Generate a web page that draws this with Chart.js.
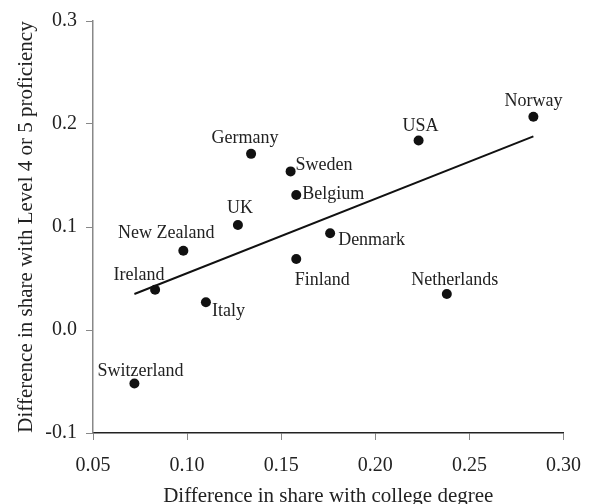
<!DOCTYPE html>
<html>
<head>
<meta charset="utf-8">
<script src="https://cdn.jsdelivr.net/npm/chart.js@4"></script>
<style>
  html, body { margin: 0; padding: 0; background: #fff; }
</style>
</head>
<body>
<canvas id="myChart" width="595" height="504"></canvas>
<script>
// values
const countries = ['Germany', 'Sweden', 'Belgium', 'UK', 'New Zealand', 'Ireland', 'Italy',
  'Switzerland', 'Finland', 'Netherlands', 'Denmark', 'USA', 'Norway'];
const collegeDiff = [0.134, 0.155, 0.158, 0.127, 0.098, 0.083, 0.110,
  0.072, 0.158, 0.238, 0.176, 0.223, 0.284];
const proficiencyDiff = [0.171, 0.154, 0.131, 0.102, 0.077, 0.039, 0.027,
  -0.052, 0.069, 0.035, 0.094, 0.184, 0.207];

// fitted line, end points
const trendX = [0.072, 0.284];
const trendY = [0.035, 0.188];

const xTicks = [0.05, 0.10, 0.15, 0.20, 0.25, 0.30];
const yTicks = [-0.1, 0.0, 0.1, 0.2, 0.3];

// where each country name sits relative to its dot: [dx, dy, align]
const labelPlace = {
  'Germany': [-6, -16, 'center'],
  'Sweden': [5, -6, 'left'],
  'Belgium': [6, -1, 'left'],
  'UK': [2, -17, 'center'],
  'New Zealand': [-17, -17, 'center'],
  'Ireland': [-16, -15, 'center'],
  'Italy': [6, 9, 'left'],
  'Switzerland': [6, -12, 'center'],
  'Finland': [26, 21, 'center'],
  'Netherlands': [8, -14, 'center'],
  'Denmark': [8, 7, 'left'],
  'USA': [2, -14, 'center'],
  'Norway': [0, -16, 'center']
};

const SERIF = '"Liberation Serif", "Times New Roman", Times, serif';

const countryLabels = {
  id: 'countryLabels',
  afterDatasetsDraw(chart) {
    const ctx = chart.ctx;
    const meta = chart.getDatasetMeta(0);
    ctx.save();
    ctx.font = '18px ' + SERIF;
    ctx.fillStyle = '#222';
    ctx.textBaseline = 'middle';
    meta.data.forEach((pt, i) => {
      const p = labelPlace[countries[i]];
      ctx.textAlign = p[2];
      ctx.fillText(countries[i], pt.x + p[0], pt.y + p[1]);
    });
    ctx.restore();
  }
};

const points = collegeDiff.map((x, i) => ({ x: x, y: proficiencyDiff[i] }));
const trend = trendX.map((x, i) => ({ x: x, y: trendY[i] }));

const data = {
  datasets: [
    {
      type: 'scatter',
      label: 'Countries',
      data: points,
      pointRadius: 5,
      pointBackgroundColor: '#111',
      pointBorderColor: '#111',
      pointBorderWidth: 0
    },
    {
      type: 'line',
      label: 'Fit',
      data: trend,
      borderColor: '#111',
      borderWidth: 2,
      pointRadius: 0,
      fill: false
    }
  ]
};

const config = {
  type: 'scatter',
  data: data,
  plugins: [countryLabels],
  options: {
    responsive: false,
    animation: false,
    layout: { padding: { top: 19, right: 28, left: 0, bottom: 0 } },
    plugins: {
      legend: { display: false },
      tooltip: { enabled: false }
    },
    scales: {
      x: {
        type: 'linear',
        min: 0.05,
        max: 0.30,
        afterBuildTicks: s => { s.ticks = xTicks.map(v => ({ value: v })); },
        afterFit: s => { s.height = 71; },
        grid: { drawOnChartArea: false, drawTicks: true, tickLength: 7, color: '#888' },
        border: { color: '#222', width: 1.5 },
        ticks: {
          padding: 14,
          color: '#222',
          font: { family: SERIF, size: 20 },
          callback: v => v.toFixed(2)
        },
        title: {
          display: true,
          text: 'Difference in share with college degree',
          color: '#222',
          font: { family: SERIF, size: 21 },
          padding: { top: 0, bottom: -5 }
        }
      },
      y: {
        type: 'linear',
        min: -0.1,
        max: 0.3,
        afterBuildTicks: s => { s.ticks = yTicks.map(v => ({ value: v })); },
        afterFit: s => { s.width = 93; },
        grid: { drawOnChartArea: false, drawTicks: true, tickLength: 7, color: '#888' },
        border: { color: '#888', width: 1.5 },
        ticks: {
          padding: 9,
          color: '#222',
          font: { family: SERIF, size: 20 },
          callback: v => v.toFixed(1)
        },
        title: {
          display: true,
          text: 'Difference in share with Level 4 or 5 proficiency',
          color: '#222',
          font: { family: SERIF, size: 21 },
          padding: { top: 14, bottom: 0 }
        }
      }
    }
  }
};

const myChart = new Chart(document.getElementById('myChart'), config);
</script>
</body>
</html>
